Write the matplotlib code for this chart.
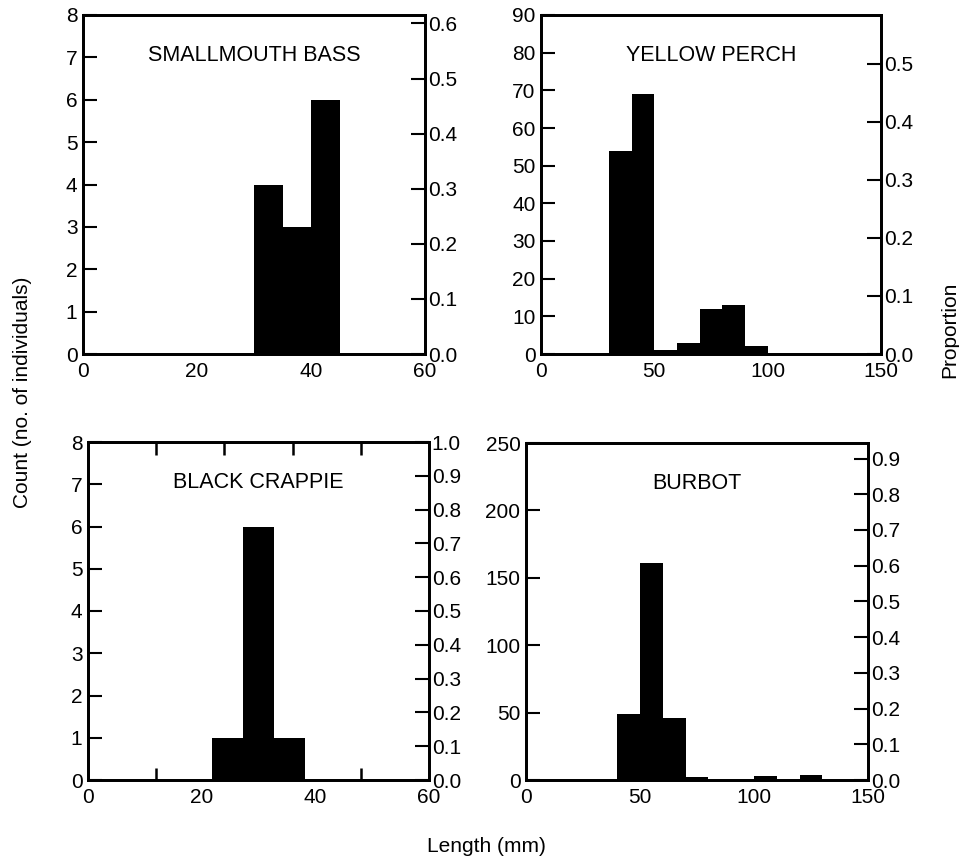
import numpy as np
import matplotlib
matplotlib.use("Agg")
import matplotlib.pyplot as plt
from matplotlib.ticker import FixedLocator

plt.rcParams["font.family"] = ["Liberation Sans", "DejaVu Sans"]
plt.rcParams["font.size"] = 15

# Length-frequency data (counts per length bin, mm)
bass_edges = [30, 35, 40, 45]
bass_counts = [4, 3, 6]

perch_edges = [30, 40, 50, 60, 70, 80, 90, 100]
perch_counts = [54, 69, 1, 3, 12, 13, 2]

crappie_edges = [21.9, 27.2, 32.7, 38.2]
crappie_counts = [1, 6, 1]

burbot_edges = [40, 50, 60, 70, 80, 90, 100, 110, 120, 130]
burbot_counts = [49, 161, 46, 2, 0, 0, 3, 0, 4]

species = ["SMALLMOUTH BASS", "YELLOW PERCH", "BLACK CRAPPIE", "BURBOT"]

W, H = 959, 859
fig = plt.figure(figsize=(W / 100, H / 100), dpi=100)


def panel(box, edges, counts, name, xmax, ymax, yticks, xlabels, xminor, pticks):
    # box is (left, top, right, bottom) in pixels
    l, t, r, b = box
    ax = fig.add_axes([l / W, (H - b) / H, (r - l) / W, (b - t) / H])
    ax.stairs(counts, edges, fill=True, color="black")
    ax.set_xlim(0, xmax)
    ax.set_ylim(0, ymax)
    ax.set_yticks(yticks)
    ax.set_xticks(xlabels)
    ax.xaxis.set_minor_locator(FixedLocator(xminor))
    ax.tick_params(axis="x", which="major", length=0, pad=6)
    ax.tick_params(axis="x", which="minor", direction="in", length=9,
                   width=1.8, top=True, bottom=True)
    ax.tick_params(axis="y", direction="in", length=10, width=1.5, pad=4)
    for s in ax.spines.values():
        s.set_linewidth(2)
    ax.text(0.5, 0.88, name, transform=ax.transAxes, ha="center",
            va="center", fontsize=15.5)

    total = sum(counts)
    ax2 = ax.twinx()
    ax2.set_ylim(0, ymax / total)
    ax2.set_yticks(pticks)
    ax2.set_yticklabels([f"{p:.1f}" for p in pticks])
    ax2.tick_params(axis="y", direction="in", length=10, width=1.5, pad=2)
    for s in ax2.spines.values():
        s.set_linewidth(2)
    return ax


panel((83, 15, 425, 354), bass_edges, bass_counts, species[0], 60, 8,
      range(0, 9), [0, 20, 40, 60], [20, 40], np.arange(0, 0.61, 0.1))
panel((541, 15, 881, 354), perch_edges, perch_counts, species[1], 150, 90,
      range(0, 91, 10), [0, 50, 100, 150], [50, 100], np.arange(0, 0.51, 0.1))
panel((88, 442, 429, 780), crappie_edges, crappie_counts, species[2], 60, 8,
      range(0, 9), [0, 20, 40, 60], [12, 24, 36, 48], np.arange(0, 1.01, 0.1))
panel((526, 443, 868, 780), burbot_edges, burbot_counts, species[3], 150, 250,
      range(0, 251, 50), [0, 50, 100, 150], [50, 100], np.arange(0, 0.91, 0.1))

fig.text(23 / W, 1 - 392 / H, "Count (no. of individuals)", rotation=90,
         ha="center", va="center", fontsize=15)
fig.text(950 / W, 1 - 330 / H, "Proportion", rotation=90,
         ha="center", va="center", fontsize=15)
fig.text(486 / W, 1 - 846 / H, "Length (mm)", ha="center", va="center",
         fontsize=15)

fig.savefig("out.png", dpi=100)
